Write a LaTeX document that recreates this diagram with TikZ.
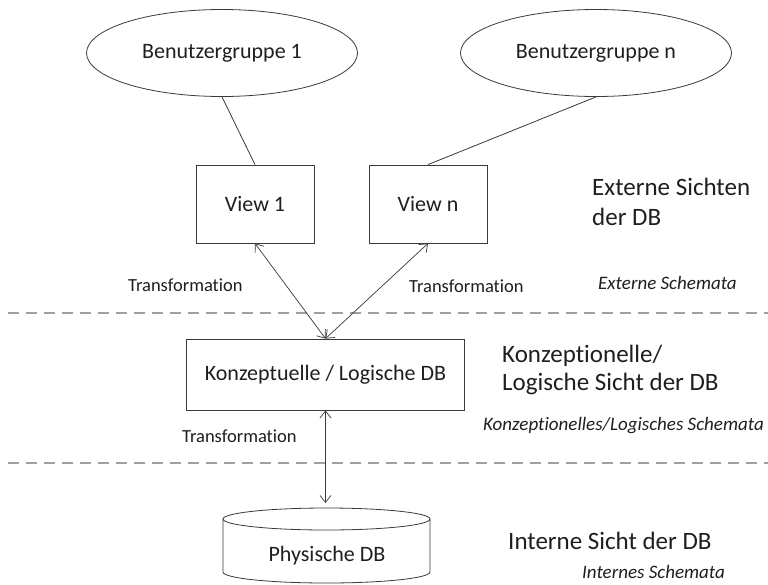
\documentclass[tikz,border=0pt]{standalone}
\usepackage{fontspec}
\setmainfont{Carlito}[Ligatures=NoCommon]
\usetikzlibrary{arrows.meta,shapes.geometric}
\definecolor{ink}{HTML}{1F1F1F}
\definecolor{edgec}{HTML}{3A3A3A}
\definecolor{dashc}{HTML}{A0A0A0}
\tikzset{
  nodefont/.style={font=\fontsize{22}{26}\selectfont},
  grp/.style={ellipse, draw=edgec, line width=0.8pt, minimum width=271pt, minimum height=87pt, inner sep=0pt, nodefont, text=ink},
  viewbox/.style={rectangle, draw=edgec, line width=0.8pt, minimum width=118pt, minimum height=78pt, inner sep=0pt, nodefont, text=ink},
  dbbox/.style={rectangle, draw=edgec, line width=0.8pt, minimum width=278pt, minimum height=71pt, inner sep=0pt, nodefont, text=ink},
  cylline/.style={draw=edgec, line width=0.8pt},
  link/.style={draw=edgec, line width=0.8pt},
  dbl/.style={draw=edgec, line width=0.7pt, {Straight Barb[length=7pt,width=11pt]}-{Straight Barb[length=7pt,width=11pt]}},
  sep/.style={draw=dashc, line width=2.8pt, dash pattern=on 11pt off 7pt},
  layer/.style={font={\fontsize{25}{30}\selectfont}, text=ink, inner sep=0pt, anchor=base west},
  schema/.style={font={\fontsize{19}{23}\selectfont\itshape}, text=ink, inner sep=0pt, anchor=base west},
  trans/.style={font={\fontsize{18.5}{22}\selectfont}, text=ink, inner sep=0pt, anchor=base west},
}
\begin{document}
\begin{tikzpicture}[x=1pt,y=-1pt]
\useasboundingbox[fill=white] (0,0) rectangle (768,584);
% separators
\draw[sep] (8,313) -- (768,313);
\draw[sep] (8,463) -- (768,463);
% nodes
\node[grp] (e1) at (222,53) {Benutzergruppe 1};
\node[grp] (en) at (596,53) {Benutzergruppe n};
\node[viewbox] (v1) at (255,204) {View 1};
\node[viewbox] (vn) at (428,204) {View n};
\node[dbbox] (k) at (325.5,374.5) {Konzeptuelle / Logische DB};
% cylinder
\draw[cylline, fill=white] (223,519) -- (223,572) arc[start angle=180,end angle=360,x radius=103.5pt,y radius=11pt] -- (430,519);
\draw[cylline] (326.5,519) ellipse [x radius=103.5pt, y radius=11pt];
\coordinate (ctop) at (325.5,508);
\node[nodefont, text=ink, anchor=base, inner sep=0pt] (phys) at (327,561) {Physische DB};
% connectors
\draw[link] (e1.south) -- (v1.north);
\draw[link] (en.south) -- (vn.north);
\draw[dbl] (v1.south) -- (k.north);
\draw[dbl] (vn.south) -- (k.north);
\draw[dbl, shorten >=5pt] (k.south) -- (ctop);
% labels
\node[layer] (ext1) at (592,195) {Externe Sichten};
\node[layer] (ext2) at (592,225) {der DB};
\node[schema] (exts) at (598,289) {Externe Schemata};
\node[trans] (t1) at (128,291) {Transformation};
\node[trans] (t2) at (409,292) {Transformation};
\node[layer] (kon1) at (502,362) {Konzeptionelle/};
\node[layer] (kon2) at (502,390) {Logische Sicht der DB};
\node[schema] (kons) at (483,430) {Konzeptionelles/Logisches Schemata};
\node[trans] (t3) at (182,442) {Transformation};
\node[layer] (int1) at (508,549) {Interne Sicht der DB};
\node[schema] (ints) at (582,578) {Internes Schemata};
\end{tikzpicture}
\end{document}
